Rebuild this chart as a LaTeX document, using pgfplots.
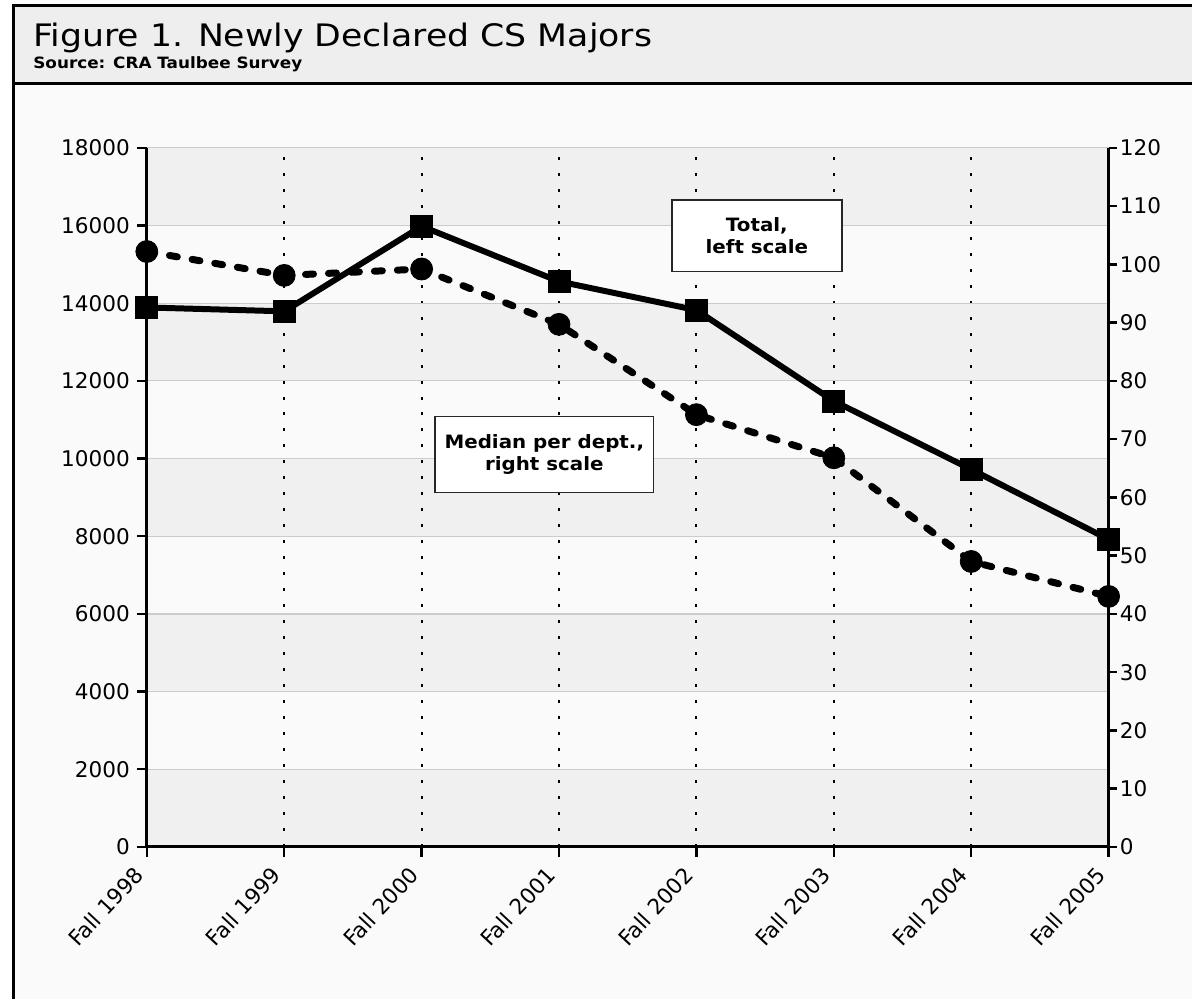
\documentclass[border=0pt]{standalone}
\usepackage{pgfplots}
\pgfplotsset{compat=1.18}
\usepackage{fontspec}
\setmainfont{DejaVu Sans}
\newfontfamily\wide{DejaVu Sans}[FakeStretch=1.12]
\newfontfamily\wideb{DejaVu Sans Bold}[FakeStretch=1.08]
\definecolor{bgmain}{HTML}{FAFAFA}
\definecolor{bgtitle}{HTML}{EEEEEE}
\definecolor{band}{HTML}{F0F0F0}
\definecolor{gridc}{HTML}{CCCCCC}
\pgfplotsset{common/.style={
  at={(73.5pt,-424pt)}, anchor=south west,
  scale only axis, width=481.5pt, height=350pt,
  xmin=0, xmax=7, clip=false,
  axis line style={line width=1.5pt, -},
  tick align=outside, major tick length=5pt,
  tick style={line width=1.2pt, black},
  /pgf/number format/assume math mode=true,
  scaled y ticks=false,
}}
\begin{document}
\begin{tikzpicture}
\fill[white] (0,0) rectangle (596.5pt,-500pt);
\fill[bgmain] (7pt,-3pt) rectangle (596.5pt,-500pt);
\fill[bgtitle] (7pt,-3pt) rectangle (596.5pt,-42pt);
\draw[line width=1.5pt] (7pt,-500pt) -- (7pt,-3pt) -- (596.5pt,-3pt);
\draw[line width=1.5pt] (7pt,-42pt) -- (596.5pt,-42pt);
\node[anchor=base west, inner sep=0pt, font=\wide\fontsize{15.5}{17}\selectfont] at (16.5pt,-23.5pt) {Figure 1. Newly Declared CS Majors};
\node[anchor=base west, inner sep=0pt, font=\wideb\fontsize{7.8}{9}\selectfont] at (16.5pt,-34.5pt) {Source: CRA Taulbee Survey};
% left scale, bands and grid
\begin{axis}[common,
  ymin=0, ymax=18000,
  axis on top,
  axis x line*=bottom, axis y line*=left,
  xtick={0,...,7},
  xticklabels={Fall 1998,Fall 1999,Fall 2000,Fall 2001,Fall 2002,Fall 2003,Fall 2004,Fall 2005},
  ytick={0,2000,...,18000},
  xticklabel style={xshift=-7pt, yshift=-2.5pt, rotate=47, anchor=north east, inner sep=1pt, font=\fontsize{10.8}{12}\selectfont},
  yticklabel style={font=\fontsize{10.8}{12}\selectfont, /pgf/number format/1000 sep={}},
  xmajorgrids, ymajorgrids,
  x grid style={black, line width=1pt, dash pattern=on 1.5pt off 6.5pt},
  y grid style={gridc, line width=0.6pt},
]
\fill[band] (axis cs:0,0) rectangle (axis cs:7,2000);
\fill[band] (axis cs:0,4000) rectangle (axis cs:7,6000);
\fill[band] (axis cs:0,8000) rectangle (axis cs:7,10000);
\fill[band] (axis cs:0,12000) rectangle (axis cs:7,14000);
\fill[band] (axis cs:0,16000) rectangle (axis cs:7,18000);
\end{axis}
% total, left scale
\begin{axis}[common, ymin=0, ymax=18000, hide axis]
\addplot[black, line width=3pt, mark=square*, mark size=5.5pt, mark options={solid, line width=0.4pt}] coordinates {
(0,13890) (1,13790) (2,15980) (3,14560) (4,13820) (5,11480) (6,9720) (7,7920)};
\node[draw=black!85, line width=0.8pt, fill=white, minimum width=85pt, minimum height=36pt, align=center, font=\wideb\fontsize{9.2}{10.8}\selectfont] at (axis cs:4.44,15737) {Total,\\left scale};
\node[draw=black!85, line width=0.8pt, fill=white, minimum width=109.5pt, minimum height=38pt, align=center, font=\wideb\fontsize{9.2}{10.8}\selectfont] at (axis cs:2.893,10106) {Median per dept.,\\right scale};
\end{axis}
% median, right scale
\begin{axis}[common,
  ymin=0, ymax=120,
  axis x line=none, axis y line*=right,
  ytick={0,10,...,120},
  major tick length=4pt,
  yticklabel style={font=\fontsize{10.8}{12}\selectfont, inner sep=1.5pt},
]
\addplot[black, line width=3.5pt, line cap=round, dash pattern=on 4pt off 7.5pt, mark=*, mark size=5.5pt, mark options={solid, line width=0.4pt}] coordinates {
(0,102.2) (1,98.1) (2,99.2) (3,89.7) (4,74.2) (5,66.8) (6,49.0) (7,43.0)};
\end{axis}
\end{tikzpicture}
\end{document}
